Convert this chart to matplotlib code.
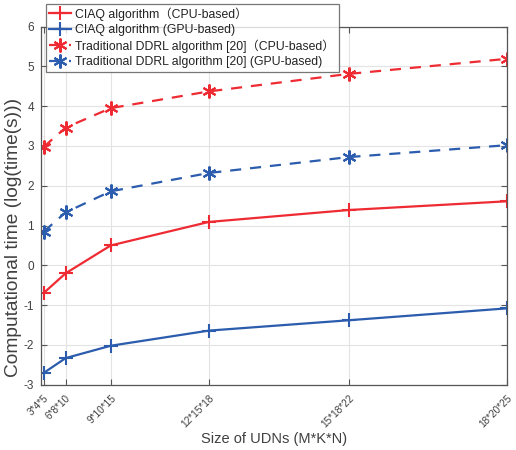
import matplotlib
matplotlib.use("Agg")
import matplotlib.pyplot as plt

plt.rcParams['font.family'] = ['Liberation Sans', 'Noto Sans CJK SC', 'DejaVu Sans']
plt.rcParams['axes.unicode_minus'] = False

# Network sizes (M*K*N) and their products used as x positions
sizes = ["3*4*5", "6*8*10", "9*10*15", "12*15*18", "15*18*22", "18*20*25"]
dims = [(3, 4, 5), (6, 8, 10), (9, 10, 15), (12, 15, 18), (15, 18, 22), (18, 20, 25)]
x = [m * k * n for m, k, n in dims]

# log(time(s)) for each method
ciaq_cpu = [-0.69, -0.20, 0.50, 1.09, 1.39, 1.61]
ciaq_gpu = [-2.70, -2.33, -2.02, -1.64, -1.38, -1.08]
ddrl_cpu = [2.98, 3.46, 3.95, 4.37, 4.81, 5.19]
ddrl_gpu = [0.85, 1.33, 1.86, 2.32, 2.72, 3.02]

labels = ["CIAQ algorithm\uff08CPU-based\uff09",
          "CIAQ algorithm (GPU-based)",
          "Traditional DDRL algorithm [20]\uff08CPU-based\uff09",
          "Traditional DDRL algorithm [20] (GPU-based)"]

red = "#EE2B33"
blue = "#2B5CAD"
txt = "#404040"

fig = plt.figure(figsize=(5.16, 4.5), dpi=100)
ax = fig.add_axes([0.079, 0.145, 0.904, 0.796])

ax.plot(x, ciaq_cpu, color=red, lw=1.6, marker='+', ms=10, mew=1.5, label=labels[0])
ax.plot(x, ciaq_gpu, color=blue, lw=1.6, marker='+', ms=10, mew=1.5, label=labels[1])
ax.plot(x, ddrl_cpu, color=red, lw=1.6, ls=(0, (5, 4)), marker=(6, 2, 0), ms=10, mew=1.5,
        label=labels[2])
ax.plot(x, ddrl_gpu, color=blue, lw=1.6, ls=(0, (5, 4)), marker=(6, 2, 0), ms=10, mew=1.5,
        label=labels[3])

ax.set_xlim(0, 9000)
ax.set_ylim(-3, 6)
ax.set_xticks(x)
ax.set_xticklabels(sizes, rotation=45, ha='right', rotation_mode='anchor', fontsize=7.2, color=txt)
ax.set_yticks(range(-3, 7))
ax.tick_params(axis='y', labelsize=8.5, labelcolor=txt, pad=5)
ax.tick_params(axis='x', pad=6)
ax.tick_params(direction='in', length=4, color='#555555', top=True, right=True, width=0.8)
ax.grid(True, color='#E3E3E3', lw=0.8)
ax.set_axisbelow(True)
for s in ax.spines.values():
    s.set_color('#555555')
    s.set_linewidth(0.9)

ax.set_xlabel("Size of UDNs (M*K*N)", fontsize=10.5, color=txt)
ax.xaxis.set_label_coords(0.5, -0.132)
ax.set_ylabel("Computational time (log(time(s)))", fontsize=13.8, color=txt)
ax.yaxis.set_label_coords(-0.041, 0.41)

leg = ax.legend(loc='upper left', bbox_to_anchor=(45.5 / 516, 1 - 3.5 / 450),
                bbox_transform=fig.transFigure, fontsize=8.8, frameon=True, fancybox=False,
                handlelength=1.8, handletextpad=0.35, borderpad=0.3, labelspacing=0.27,
                borderaxespad=0)
leg.get_frame().set_edgecolor('#555555')
leg.get_frame().set_linewidth(0.9)
for t in leg.get_texts():
    t.set_color('#222222')

fig.savefig("out.png", dpi=100)
